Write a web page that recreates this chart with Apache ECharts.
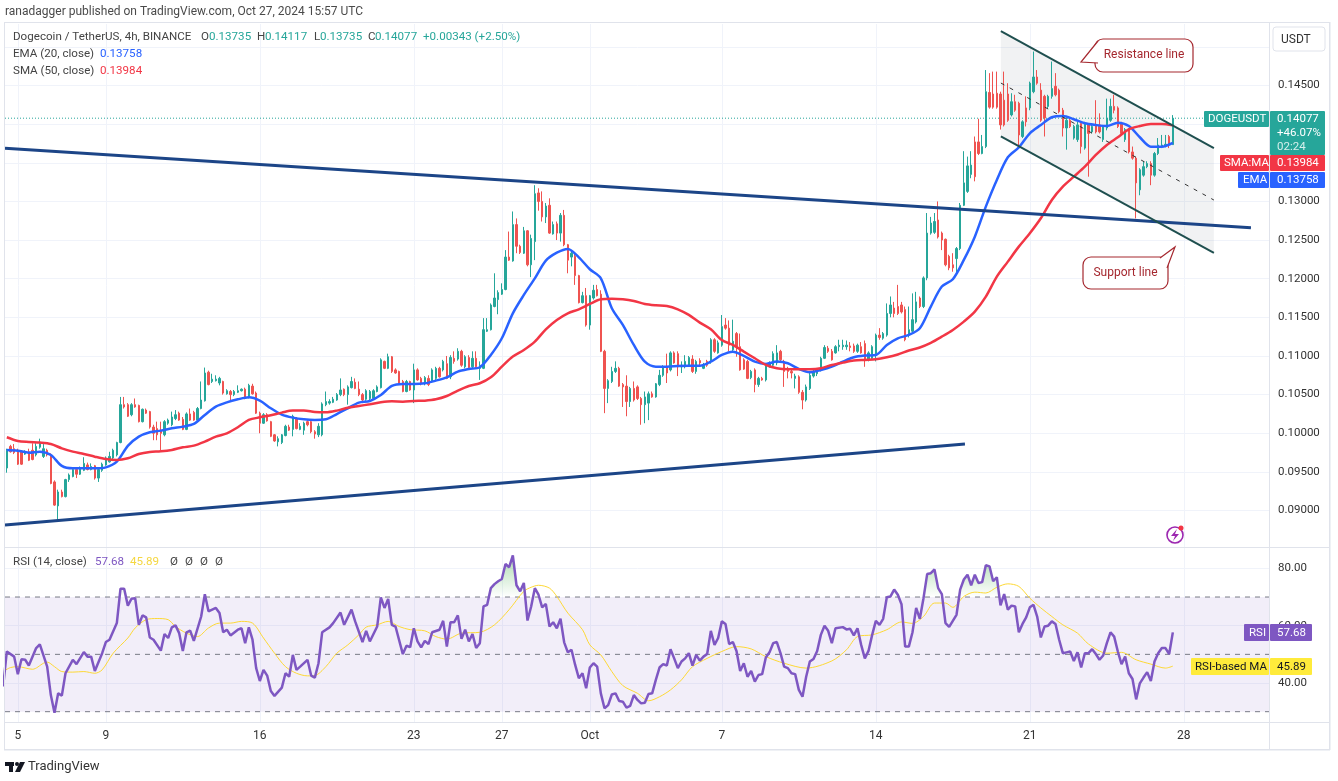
<!DOCTYPE html>
<html>
<head>
<meta charset="utf-8">
<title>DOGEUSDT</title>
<script src="https://cdn.jsdelivr.net/npm/echarts@6/dist/echarts.min.js"></script>
<style>
html, body { margin: 0; padding: 0; background: #fff; }
#main { width: 1338px; height: 781px; }
</style>
</head>
<body>
<div id="main"></div>
<script>
// day ticks on the candle index (4h candles, 0 = Sep 4 12:00)
var tickIdx = [3, 27, 69, 111, 135, 159, 195, 237, 279, 321];
var tickLabels = ['5', '9', '16', '23', '27', 'Oct', '7', '14', '21', '28'];
var priceTicks = [0.09, 0.095, 0.10, 0.105, 0.11, 0.115, 0.12, 0.125, 0.13, 0.135, 0.14, 0.145, 0.15];
var rsiTicks = [40, 60, 80];

// open, close, low, high
var candles = [
[.0955,.0978,.0949,.0980],[.0983,.0976,.0975,.0985],[.0980,.0975,.0973,.0986],[.0978,.0960,.0959,.0980],[.0976,.0960,.0959,.0978],
[.0973,.0976,.0972,.0978],[.0976,.0965,.0964,.0980],[.0978,.0966,.0965,.0987],[.0972,.0983,.0970,.0987],[.0982,.0987,.0980,.0993],
[.0970,.0980,.0968,.0986],[.0978,.0972,.0970,.0980],[.0972,.0935,.0934,.0974],[.0937,.0907,.0906,.0939],[.0906,.0924,.0888,.0927],
[.0924,.0918,.0917,.0927],[.0918,.0940,.0917,.0941],[.0940,.0946,.0937,.0948],[.0944,.0953,.0943,.0955],[.0953,.0947,.0942,.0955],
[.0947,.0955,.0946,.0957],[.0952,.0961,.0951,.0969],[.0959,.0953,.0952,.0962],[.0953,.0957,.0952,.0961],[.0958,.0942,.0940,.0959],
[.0942,.0953,.0937,.0955],[.0952,.0960,.0950,.0962],[.0959,.0968,.0958,.0970],[.0963,.0970,.0962,.0976],[.0968,.0978,.0966,.0980],
[.0972,.0988,.0970,.0989],[.0988,.1037,.0987,.1047],[.1037,.1034,.1032,.1047],[.1037,.1022,.1021,.1039],[.1024,.1037,.1022,.1039],
[.1037,.1034,.1033,.1045],[.1036,.1015,.1014,.1037],[.1015,.1031,.1014,.1032],[.1030,.1026,.1025,.1032],[.1028,.1008,.1006,.1029],
[.1008,.1000,.0991,.1011],[.1006,.0998,.0991,.1015],[.1004,.1000,.0978,.1015],[.0998,.1015,.0996,.1017],[.1013,.1017,.1011,.1019],
[.1011,.1021,.1009,.1028],[.1019,.1024,.1017,.1030],[.1026,.1017,.1016,.1028],[.1018,.1005,.1004,.1021],[.1005,.1025,.1004,.1027],
[.1025,.1017,.1016,.1032],[.1027,.1017,.1016,.1029],[.1017,.1032,.1015,.1034],[.1032,.1043,.1031,.1067],[.1042,.1078,.1041,.1085],
[.1079,.1063,.1062,.1081],[.1067,.1070,.1065,.1077],[.1068,.1070,.1067,.1075],[.1065,.1071,.1062,.1073],[.1067,.1052,.1050,.1068],
[.1051,.1055,.1050,.1057],[.1054,.1050,.1043,.1056],[.1050,.1054,.1048,.1056],[.1053,.1055,.1052,.1062],[.1055,.1057,.1054,.1058],
[.1057,.1045,.1044,.1059],[.1047,.1062,.1045,.1064],[.1061,.1051,.1050,.1064],[.1052,.1026,.1025,.1054],[.1026,.1013,.1000,.1028],
[.1013,.1024,.1012,.1026],[.1024,.1016,.1015,.1026],[.1015,.0996,.0995,.1016],[.0998,.0990,.0989,.0999],[.0989,.0993,.0983,.0996],
[.0988,.0998,.0986,.0999],[.0997,.1009,.0996,.1011],[.1008,.1004,.1003,.1011],[.1005,.1022,.0996,.1024],[.1019,.1006,.1005,.1021],
[.1005,.1009,.1004,.1013],[.1004,.1013,.0998,.1015],[.1015,.1011,.1009,.1017],[.1015,.1002,.1000,.1017],[.1002,.0999,.0993,.1004],
[.0998,.1009,.0995,.1013],[.0998,.1038,.0996,.1040],[.1037,.1041,.1035,.1054],[.1039,.1041,.1037,.1044],[.1040,.1044,.1039,.1047],
[.1043,.1050,.1042,.1052],[.1050,.1056,.1048,.1071],[.1057,.1050,.1048,.1058],[.1050,.1060,.1037,.1062],[.1059,.1067,.1058,.1073],
[.1066,.1058,.1057,.1071],[.1057,.1050,.1048,.1067],[.1050,.1043,.1039,.1052],[.1044,.1055,.1042,.1057],[.1045,.1054,.1043,.1056],
[.1045,.1055,.1044,.1057],[.1054,.1060,.1053,.1062],[.1059,.1095,.1058,.1097],[.1093,.1084,.1083,.1094],[.1084,.1099,.1083,.1103],
[.1099,.1080,.1078,.1100],[.1082,.1078,.1077,.1084],[.1080,.1065,.1063,.1081],[.1067,.1054,.1053,.1069],[.1054,.1067,.1053,.1069],
[.1067,.1056,.1055,.1068],[.1056,.1082,.1039,.1090],[.1082,.1069,.1068,.1084],[.1071,.1065,.1062,.1073],[.1065,.1072,.1062,.1074],
[.1071,.1063,.1061,.1075],[.1067,.1082,.1065,.1084],[.1071,.1084,.1069,.1086],[.1084,.1073,.1072,.1086],[.1082,.1093,.1080,.1095],
[.1090,.1071,.1070,.1100],[.1073,.1098,.1070,.1101],[.1097,.1093,.1090,.1106],[.1096,.1106,.1094,.1110],[.1106,.1088,.1086,.1108],
[.1086,.1099,.1084,.1101],[.1098,.1085,.1084,.1101],[.1086,.1097,.1084,.1106],[.1097,.1086,.1084,.1106],[.1084,.1088,.1069,.1093],
[.1084,.1134,.1083,.1149],[.1132,.1134,.1131,.1149],[.1134,.1166,.1133,.1168],[.1164,.1175,.1163,.1207],[.1173,.1182,.1154,.1185],
[.1180,.1186,.1179,.1194],[.1186,.1228,.1185,.1237],[.1228,.1224,.1223,.1261],[.1223,.1270,.1222,.1287],[.1270,.1242,.1233,.1278],
[.1242,.1234,.1232,.1244],[.1233,.1262,.1232,.1267],[.1262,.1218,.1216,.1263],[.1218,.1252,.1202,.1257],[.1248,.1310,.1224,.1321],
[.1311,.1300,.1288,.1317],[.1300,.1280,.1274,.1313],[.1280,.1294,.1272,.1298],[.1295,.1259,.1258,.1304],[.1258,.1270,.1257,.1274],
[.1271,.1259,.1250,.1274],[.1259,.1282,.1248,.1285],[.1282,.1244,.1242,.1289],[.1244,.1224,.1207,.1245],[.1228,.1233,.1216,.1237],
[.1229,.1204,.1192,.1233],[.1204,.1169,.1168,.1205],[.1169,.1178,.1168,.1183],[.1178,.1140,.1138,.1188],[.1140,.1178,.1134,.1179],
[.1175,.1185,.1173,.1192],[.1186,.1178,.1177,.1192],[.1180,.1106,.1105,.1185],[.1106,.1058,.1026,.1108],[.1058,.1068,.1039,.1070],
[.1067,.1080,.1065,.1086],[.1080,.1084,.1078,.1093],[.1084,.1061,.1060,.1086],[.1063,.1060,.1034,.1065],[.1061,.1041,.1022,.1075],
[.1041,.1058,.1034,.1060],[.1058,.1043,.1041,.1067],[.1060,.1045,.1043,.1062],[.1045,.1037,.1011,.1047],[.1037,.1047,.1013,.1054],
[.1039,.1051,.1017,.1054],[.1051,.1047,.1046,.1054],[.1047,.1064,.1046,.1065],[.1063,.1075,.1061,.1082],[.1075,.1086,.1073,.1088],
[.1086,.1078,.1065,.1103],[.1082,.1104,.1080,.1106],[.1104,.1091,.1090,.1106],[.1103,.1086,.1074,.1106],[.1086,.1088,.1078,.1093],
[.1086,.1093,.1084,.1101],[.1088,.1098,.1086,.1100],[.1096,.1080,.1078,.1101],[.1080,.1093,.1077,.1095],[.1094,.1091,.1088,.1097],
[.1084,.1088,.1083,.1091],[.1093,.1088,.1086,.1095],[.1093,.1121,.1090,.1123],[.1121,.1106,.1104,.1123],[.1104,.1117,.1103,.1120],
[.1114,.1138,.1112,.1153],[.1140,.1136,.1134,.1149],[.1136,.1114,.1106,.1146],[.1108,.1119,.1106,.1147],[.1129,.1112,.1099,.1131],
[.1112,.1082,.1081,.1129],[.1095,.1083,.1082,.1097],[.1093,.1071,.1070,.1095],[.1072,.1080,.1070,.1082],[.1082,.1063,.1053,.1084],
[.1063,.1071,.1060,.1073],[.1071,.1069,.1068,.1073],[.1069,.1088,.1067,.1091],[.1086,.1091,.1085,.1093],[.1088,.1103,.1086,.1106],
[.1091,.1104,.1088,.1114],[.1106,.1095,.1093,.1108],[.1093,.1080,.1060,.1095],[.1084,.1080,.1071,.1086],[.1080,.1078,.1071,.1082],
[.1071,.1074,.1058,.1077],[.1073,.1053,.1051,.1075],[.1053,.1043,.1031,.1056],[.1043,.1060,.1041,.1063],[.1058,.1075,.1056,.1080],
[.1074,.1080,.1072,.1082],[.1077,.1082,.1074,.1084],[.1082,.1097,.1080,.1099],[.1097,.1111,.1096,.1114],[.1110,.1106,.1104,.1113],
[.1106,.1095,.1094,.1109],[.1104,.1112,.1103,.1114],[.1112,.1114,.1106,.1121],[.1112,.1114,.1108,.1121],[.1112,.1114,.1108,.1120],
[.1113,.1111,.1106,.1118],[.1113,.1106,.1104,.1116],[.1106,.1114,.1104,.1116],[.1112,.1104,.1103,.1118],[.1116,.1095,.1086,.1120],
[.1095,.1104,.1093,.1106],[.1097,.1112,.1095,.1114],[.1101,.1127,.1093,.1129],[.1127,.1124,.1121,.1136],[.1123,.1129,.1121,.1131],
[.1127,.1155,.1125,.1168],[.1155,.1166,.1150,.1177],[.1162,.1155,.1150,.1170],[.1164,.1155,.1153,.1192],[.1166,.1157,.1155,.1170],
[.1160,.1121,.1119,.1164],[.1127,.1134,.1124,.1164],[.1132,.1147,.1130,.1181],[.1144,.1170,.1142,.1183],[.1175,.1164,.1162,.1177],
[.1164,.1201,.1162,.1203],[.1201,.1259,.1198,.1285],[.1259,.1272,.1257,.1280],[.1260,.1274,.1258,.1285],[.1276,.1254,.1252,.1300],
[.1259,.1250,.1237,.1261],[.1251,.1218,.1216,.1252],[.1229,.1214,.1211,.1231],[.1218,.1214,.1209,.1233],[.1226,.1239,.1207,.1241],
[.1239,.1295,.1237,.1298],[.1295,.1324,.1294,.1365],[.1313,.1346,.1311,.1358],[.1335,.1347,.1330,.1365],[.1377,.1332,.1326,.1384],
[.1377,.1362,.1360,.1407],[.1362,.1371,.1361,.1386],[.1371,.1442,.1369,.1470],[.1441,.1422,.1420,.1466],[.1439,.1422,.1420,.1468],
[.1440,.1422,.1420,.1468],[.1439,.1399,.1393,.1442],[.1431,.1399,.1397,.1468],[.1439,.1405,.1403,.1453],[.1412,.1429,.1410,.1440],
[.1429,.1418,.1416,.1438],[.1427,.1386,.1371,.1429],[.1384,.1403,.1382,.1405],[.1421,.1403,.1397,.1436],[.1421,.1453,.1418,.1455],
[.1442,.1461,.1440,.1494],[.1461,.1453,.1451,.1470],[.1444,.1405,.1403,.1453],[.1436,.1408,.1384,.1438],[.1423,.1436,.1420,.1438],
[.1436,.1446,.1433,.1481],[.1449,.1438,.1436,.1466],[.1444,.1416,.1414,.1446],[.1418,.1395,.1384,.1421],[.1395,.1405,.1367,.1408],
[.1405,.1397,.1395,.1408],[.1382,.1397,.1380,.1399],[.1380,.1399,.1377,.1403],[.1401,.1371,.1362,.1403],[.1369,.1401,.1367,.1403],
[.1399,.1388,.1332,.1401],[.1390,.1397,.1388,.1401],[.1399,.1390,.1388,.1431],[.1399,.1390,.1388,.1414],[.1380,.1397,.1377,.1399],
[.1395,.1408,.1392,.1433],[.1405,.1423,.1403,.1433],[.1423,.1418,.1414,.1438],[.1421,.1397,.1395,.1423],[.1401,.1388,.1386,.1403],
[.1380,.1393,.1377,.1395],[.1393,.1364,.1362,.1395],[.1364,.1356,.1354,.1371],[.1356,.1324,.1278,.1358],[.1315,.1341,.1308,.1343],
[.1334,.1345,.1332,.1352],[.1345,.1349,.1343,.1352],[.1349,.1334,.1321,.1352],[.1334,.1362,.1332,.1364],[.1362,.1373,.1360,.1382],
[.1371,.1373,.1369,.1386],[.1372,.1374,.1370,.1386],[.1384,.1373,.1369,.1386],[.13735,.14077,.13735,.14117]
];

// moving averages, read every 3rd candle from index 0
var ema20 = [
.09784,.09775,.09749,.09762,.09719,.09577,.09546,.09546,.09546,.09559,.09633,.09836,.09956,.10012,.10034,.10064,.10086,.10120,.10237,.10344,.10400,
.10439,.10465,.10422,.10323,.10241,.10202,.10180,.10172,.10180,.10249,.10323,.10396,.10418,.10495,.10612,.10638,.10638,.10646,.10681,.10724,
.10798,.10832,.10854,.11013,.11229,.11552,.11790,.12005,.12234,.12337,.12385,.12277,.12122,.12005,.11617,.11402,.11143,.10927,.10862,.10862,
.10871,.10875,.10875,.10927,.11013,.11056,.11000,.10927,.10897,.10927,.10906,.10832,.10789,.10819,.10862,.10927,.10983,.11005,.11013,.11143,
.11229,.11272,.11358,.11639,.11898,.11993,.12243,.12544,.12933,.13278,.13571,.13700,.13882,.13989,.14089,.14106,.14063,.14011,.13989,.13976,
.14019,.13976,.13830,.13709,.13709,.13758
];
var sma50 = [
.09948,.09900,.09887,.09879,.09861,.09805,.09762,.09732,.09697,.09667,.09654,.09676,.09732,.09758,.09766,.09784,.09818,.09840,.09892,.09956,.09999,
.10077,.10172,.10206,.10232,.10267,.10293,.10293,.10275,.10271,.10293,.10331,.10353,.10375,.10400,.10413,.10409,.10418,.10422,.10439,.10482,
.10552,.10612,.10647,.10724,.10862,.10992,.11078,.11186,.11345,.11466,.11552,.11604,.11673,.11734,.11742,.11734,.11712,.11673,.11656,.11647,
.11604,.11531,.11432,.11345,.11207,.11143,.11056,.10970,.10884,.10841,.10828,.10828,.10828,.10841,.10884,.10914,.10940,.10949,.10957,.10983,
.11020,.11070,.11110,.11170,.11250,.11337,.11445,.11574,.11768,.12027,.12221,.12415,.12588,.12782,.13019,.13191,.13320,.13450,.13601,.13730,
.13830,.13933,.13976,.14002,.14002,.13984
];

// rsi as [candle index, value]
var rsi14 = [
[-1,38.8],[0,51.0],[2,49.2],[3,43.1],[4,48.3],[5,48.1],[6,46.1],[8,52.2],[9,53.5],[11,45.7],[12,35.8],[13,29.6],[14,36.4],[15,35.6],[16,43.4],
[18,48.1],[19,46.6],[21,50.8],[22,49.2],[23,49.2],[24,44.2],[26,50.4],[27,54.3],[28,55.1],[30,60.9],[31,72.9],[32,72.9],[33,67],[34,69.4],[35,69.6],
[36,60.3],[37,63.6],[38,62.9],[39,55.9],[40,55.1],[42,51.3],[43,57.1],[44,55.7],[45,59.4],[46,60.1],[47,57.4],[48,51.2],[49,57.7],[50,58.3],[51,54.7],
[53,63.2],[54,71],[55,65],[57,66.2],[58,64.4],[59,57.7],[60,58.6],[61,56.6],[63,58.6],[64,59.1],[65,53.9],[66,59.4],[67,55.1],[68,45.2],[69,40.7],
[70,44.6],[71,42.6],[72,37.2],[73,35.5],[75,38.4],[76,43.4],[77,42.2],[78,49.8],[79,44.6],[80,45.7],[82,48.1],[83,42.6],[84,41.9],[85,46.9],[86,57.7],
[88,59.4],[89,60.9],[91,64.6],[92,60.3],[94,65.6],[95,61.5],[97,54.3],[98,58.2],[99,54.5],[101,59.7],[102,69.9],[103,66.2],[104,69.3],[105,60.3],[106,59.7],
[108,50.1],[109,53],[110,52.5],[111,59.1],[112,54.5],[113,52.4],[114,54.7],[115,53.6],[116,57.7],[118,58.6],[119,61.7],[120,52.7],[121,61.2],[122,61.2],[123,63.6],
[124,55.4],[125,58.6],[126,54.5],[127,57.1],[128,52.2],[129,53.9],[130,66.7],[131,67.3],[132,73.1],[133,74.5],[134,75.5],[135,76.3],[136,81.5],[137,80.4],[138,84.5],
[139,74.1],[140,72],[141,74.9],[142,61.8],[143,66.7],[144,73.1],[145,70.8],[146,66.4],[147,67.6],[148,59.7],[149,61.2],[150,59.1],[151,62.4],[152,54.2],[153,50.7],
[154,51.6],[155,46.3],[156,41.7],[157,43.4],[158,38.2],[159,45.4],[160,46.9],[161,45.7],[162,36.4],[163,31.2],[164,32.3],[165,36],[166,36.4],[167,33.7],[168,33.5],
[169,31.4],[170,32],[171,35.8],[172,34.1],[173,32.9],[174,33.1],[175,36.2],[176,36.4],[177,41.1],[178,45.4],[179,46.6],[180,46.1],[181,51.8],[182,48.6],[183,45.2],
[184,47.5],[185,48.6],[186,50.4],[187,46.1],[188,49.8],[189,47.8],[190,49.2],[191,50.1],[192,58.2],[193,53.3],[194,55.7],[195,61.5],[196,60.6],[197,53.6],[198,54.3],
[199,51.2],[200,44.2],[201,46.9],[202,42.2],[203,44.2],[204,40.5],[205,42.8],[206,43.1],[207,48.9],[208,50.7],[209,53.9],[210,54.3],[211,50.4],[212,45.7],[213,45.2],
[214,43.4],[215,43.1],[216,37.6],[217,35.2],[218,42.2],[219,47.5],[220,48.4],[221,51.2],[222,56.8],[223,60],[224,58.2],[225,53.9],[226,59.1],[228,59.5],[229,58.7],
[230,58.9],[231,56.6],[232,59.1],[233,53.3],[234,48.6],[235,51.2],[236,56.8],[237,61.7],[238,60.3],[239,62.4],[240,69.9],[241,70.2],[242,72.6],[243,70.8],[244,67.5],
[245,52.7],[246,52.7],[247,57.7],[248,66.2],[249,62.4],[250,69.6],[251,78],[252,78.3],[253,79.6],[254,73.1],[255,71],[256,60.9],[257,59.6],[258,61.7],[259,63.8],
[260,72.6],[261,76.1],[262,77.8],[263,74.1],[264,77.8],[265,74.9],[266,75.2],[267,81.1],[268,80.7],[269,75.5],[270,76.9],[271,67.1],[272,71],[273,65.6],[274,67],
[275,66.7],[276,57.7],[277,60.6],[278,62.9],[279,66.4],[280,67.3],[281,63.2],[282,55.9],[283,59.7],[284,60],[285,61.5],[286,60.6],[287,55.1],[288,50.4],[289,50.7],
[290,51],[291,47.7],[292,50.7],[293,45.4],[294,50.4],[295,50.4],[296,51.8],[297,50.1],[298,48.1],[299,49.6],[300,53.9],[301,57.7],[302,56.2],[303,51],[304,46.6],
[305,49.2],[306,43.4],[307,41.4],[308,34.3],[309,39.9],[310,41.9],[311,43.8],[312,40.7],[313,47.5],[314,50.4],[315,52.2],[316,52.2],[317,50.1],[318,57.68]
];
var rsiMa = [
[-1,44],[1,45.4],[3,45.7],[7,44.8],[10,46.9],[11,47.3],[13,45.7],[15,44],[18,43.8],[21,44],[24,43.4],[26,44.6],[29,50.4],[33,55.7],[35,59.2],[38,62.1],[41,62.5],
[44,62.1],[46,59.7],[49,57.4],[52,56.2],[55,59.2],[58,60.9],[61,60.9],[64,61.5],[67,60.9],[70,55.7],[73,50.4],[76,45.7],[79,43.4],[82,42.5],[84,42.6],[87,45.7],
[90,50.4],[93,53.3],[96,56.8],[98,59.5],[101,60.3],[104,61.5],[107,59.7],[110,58.6],[114,58.2],[117,56.2],[120,55.3],[124,57.4],[129,57.7],[133,60.3],[137,65.6],
[141,72],[143,73.4],[145,74.1],[148,73.1],[150,70.2],[153,64.4],[157,58.6],[159,53.3],[162,49.8],[165,44],[168,39.1],[172,36.4],[175,33.8],[178,35.2],[181,37.6],
[184,41.1],[187,45.7],[191,48.6],[195,51],[199,52.7],[203,51.9],[207,49.2],[212,46.9],[218,45.2],[225,47.7],[229,51.6],[232,56.2],[236,56.8],[240,58.6],[244,61.3],
[247,60.8],[250,63.2],[253,67.9],[256,67.9],[258,66.4],[261,70.2],[264,71.7],[267,71.4],[270,73.4],[273,74.6],[276,73.7],[279,69.6],[282,66.2],[285,63.2],[288,60.3],
[292,57.4],[295,53.6],[300,50.4],[304,50.7],[308,48.1],[312,46.6],[316,45.2],[318,45.89]
];

// drawn lines as [candle index, price]
var upperTrend = [[-0.5, .13687], [339.3, .12660]];
var lowerTrend = [[-0.5, .08813], [261.3, .09861]];
var channelTop = [[271.1, .15205], [329.2, .13691]];
var channelMid = [[271.1, .14532], [329.2, .13018]];
var channelLow = [[271.1, .13843], [329.2, .12333]];
var lastPrice = [[-0.5, .14077], [326.7, .14077]];

var categories = [];
for (var c = 0; c < 345; c++) {
	categories.push(new Date(Date.UTC(2024, 8, 4, 12) + c * 4 * 3600 * 1000).toISOString());
}

function idxPairs(values) {
	return values.map(function (v, k) { return [k * 3, v]; });
}
function flatLine(v) {
	return [[-0.5, v], [344.5, v]];
}

var FONT = 'Roboto, sans-serif';
var GRID_COLOR = '#f0f3fa';
var BORDER = '#e0e3eb';
var TEAL = '#26a69a', RED = '#ef5350', PURPLE = '#7e57c2', BLUE = '#2962ff', MA_RED = '#f23645';
var NOTE_RED = '#a5282f';

function txt(x, y, s, fill, size, align) {
	return {
		type: 'text', x: x, y: y + 1, z: 100,
		style: {
			text: s, fill: fill, textAlign: align || 'left', textVerticalAlign: 'middle',
			font: (size || 12) + 'px ' + FONT
		}
	};
}
function box(x, y, w, h, fill, r) {
	return { type: 'rect', z: 99, shape: { x: x, y: y, width: w, height: h, r: r || 0 }, style: { fill: fill } };
}
function pen(x, y, w, h) {
	return { type: 'rect', z: 98, shape: { x: x, y: y, width: w, height: h }, style: { fill: BORDER } };
}
// note box with a tail: rect first, the tail covers its border, then the two tail edges
function callout(x, y, w, h, tail) {
	return [
		{ type: 'rect', z: 99, shape: { x: x, y: y, width: w, height: h, r: 8 }, style: { fill: '#fff', stroke: NOTE_RED, lineWidth: 1.2 } },
		{ type: 'polygon', z: 99, shape: { points: tail }, style: { fill: '#fff' } },
		{ type: 'polyline', z: 99, shape: { points: tail }, style: { fill: 'none', stroke: NOTE_RED, lineWidth: 1.2 } }
	];
}

var LEGEND = 11.6, AXIS = 11.5, GREY = '#444';
var graphics = [
	pen(4, 22, 1326, 1), pen(4, 22, 1, 728), pen(4, 749, 1326, 1.5), pen(1329, 22, 1.5, 728),
	pen(5, 547, 1325, 1), pen(5, 722, 1325, 1), pen(1269, 22, 1, 728),

	txt(5, 11, 'ranadagger published on TradingView.com, Oct 27, 2024 15:57 UTC', '#4a4a4a', 12),
	txt(13, 36, 'Dogecoin / TetherUS, 4h, BINANCE', GREY, LEGEND),
	txt(201, 36, 'O', GREY, LEGEND), txt(209, 36, '0.13735', TEAL, LEGEND),
	txt(257, 36, 'H', GREY, LEGEND), txt(265, 36, '0.14117', TEAL, LEGEND),
	txt(314, 36, 'L', GREY, LEGEND), txt(320, 36, '0.13735', TEAL, LEGEND),
	txt(368, 36, 'C', GREY, LEGEND), txt(375, 36, '0.14077', TEAL, LEGEND),
	txt(423, 36, '+0.00343 (+2.50%)', TEAL, LEGEND),
	txt(13, 53, 'EMA (20, close)', GREY, LEGEND), txt(100, 53, '0.13758', BLUE, LEGEND),
	txt(13, 70, 'SMA (50, close)', GREY, LEGEND), txt(100, 70, '0.13984', MA_RED, LEGEND),
	txt(13, 561, 'RSI (14, close)', GREY, LEGEND), txt(95, 561, '57.68', PURPLE, LEGEND), txt(130, 561, '45.89', '#f5d742', LEGEND),
	txt(170, 561, 'Ø', GREY, LEGEND), txt(185, 561, 'Ø', GREY, LEGEND), txt(200, 561, 'Ø', GREY, LEGEND), txt(215, 561, 'Ø', GREY, LEGEND),

	{ type: 'rect', z: 99, shape: { x: 1273, y: 27, width: 52, height: 24, r: 3 }, style: { fill: '#fff', stroke: BORDER } },
	txt(1281, 39, 'USDT', '#333', 12),

	box(1204, 111, 65, 16, TEAL, 1), txt(1208, 118.5, 'DOGEUSDT', '#fff', AXIS),
	box(1270, 111, 55, 44, TEAL, 1), txt(1277, 118.5, '0.14077', '#fff', AXIS),
	txt(1277, 132.5, '+46.07%', '#fff', AXIS), txt(1277, 146, '02:24', '#d5efec', AXIS),
	box(1220, 155, 49, 16, MA_RED, 1), txt(1224, 162.5, 'SMA:MA', '#fff', AXIS),
	box(1270, 155, 55, 16, MA_RED, 1), txt(1277, 162.5, '0.13984', '#fff', AXIS),
	box(1238, 172, 31, 16, BLUE, 1), txt(1243, 179.5, 'EMA', '#fff', AXIS),
	box(1270, 172, 55, 16, BLUE, 1), txt(1277, 179.5, '0.13758', '#fff', AXIS),
	box(1244, 624, 25, 17, PURPLE, 1), txt(1249, 632, 'RSI', '#fff', AXIS),
	box(1270, 624, 42, 17, PURPLE, 1), txt(1277, 632, '57.68', '#fff', AXIS),
	box(1191, 658, 78, 17, '#ffeb3b', 1), txt(1195, 666, 'RSI-based MA', '#131722', AXIS),
	box(1270, 658, 42, 17, '#ffeb3b', 1), txt(1277, 666, '45.89', '#131722', AXIS),

	txt(1144, 54, 'Resistance line', NOTE_RED, 12, 'center'),
	txt(1125.5, 272, 'Support line', NOTE_RED, 12, 'center'),

	{ type: 'circle', z: 99, shape: { cx: 1175, cy: 535, r: 8 }, style: { fill: '#fff', stroke: '#9c27b0', lineWidth: 1.6 } },
	{ type: 'polygon', z: 100, shape: { points: [[1177, 529], [1171, 536], [1175, 536], [1173, 541], [1179, 534], [1175, 534]] }, style: { fill: '#9c27b0' } },
	{ type: 'circle', z: 101, shape: { cx: 1181, cy: 528, r: 2.5 }, style: { fill: '#f23645' } },

	box(5, 762, 9, 4, '#131722'), box(9, 762, 4, 10, '#131722'),
	{ type: 'circle', z: 99, shape: { cx: 17, cy: 764, r: 2 }, style: { fill: '#131722' } },
	{ type: 'polygon', z: 99, shape: { points: [[20, 762], [25, 762], [20, 772], [15, 772]] }, style: { fill: '#131722' } },
	txt(28, 766, 'TradingView', '#333', 13)
].concat(
	callout(1095, 39, 98, 33, [[1098, 41], [1081, 62], [1098, 63]]),
	callout(1083, 257, 85, 32, [[1160, 258], [1175, 247], [1167, 268]])
);

function polygonSeries(points, fill, xIndex, yIndex, z) {
	return {
		type: 'custom', xAxisIndex: xIndex, yAxisIndex: yIndex, silent: true, z: z, data: [[0, 0]],
		renderItem: function (params, api) {
			return {
				type: 'polygon', silent: true,
				shape: { points: points.map(function (p) { return api.coord(p); }) },
				style: { fill: fill }
			};
		}
	};
}
function lineSeries(data, color, width, xIndex, yIndex, z, extra) {
	var s = {
		type: 'line', data: data, xAxisIndex: xIndex, yAxisIndex: yIndex, z: z, silent: true,
		symbol: 'none', lineStyle: { color: color, width: width }
	};
	for (var k in extra) { s[k] = extra[k]; }
	return s;
}
function dashed(data, color, width, dash, xIndex, yIndex, z) {
	return {
		type: 'line', data: data, xAxisIndex: xIndex, yAxisIndex: yIndex, z: z, silent: true,
		symbol: 'none', lineStyle: { color: color, width: width, type: dash }
	};
}

var option = {
	animation: false,
	backgroundColor: '#fff',
	textStyle: { fontFamily: FONT },
	grid: [
		{ left: 5, top: 24, width: 1265, height: 523 },
		{ left: 5, top: 548, width: 1265, height: 174 }
	],
	xAxis: [
		{ type: 'category', gridIndex: 0, data: categories, show: false, boundaryGap: true },
		{
			type: 'value', gridIndex: 0, min: -0.5, max: 344.5,
			axisLine: { show: false }, axisLabel: { show: false },
			axisTick: { show: false, customValues: tickIdx },
			splitLine: { show: true, lineStyle: { color: GRID_COLOR } }
		},
		{
			type: 'value', gridIndex: 1, min: -0.5, max: 344.5,
			axisLine: { show: false },
			axisTick: { show: false, customValues: tickIdx },
			axisLabel: {
				customValues: tickIdx, color: '#333', fontSize: 12, margin: 8, hideOverlap: false,
				formatter: function (v) { return tickLabels[tickIdx.indexOf(v)]; }
			},
			splitLine: { show: true, lineStyle: { color: GRID_COLOR } }
		}
	],
	yAxis: [
		{
			type: 'value', gridIndex: 0, position: 'right', min: 0.08528, max: 0.15296,
			axisLine: { show: false },
			axisTick: { show: false, customValues: priceTicks },
			axisLabel: {
				customValues: priceTicks, color: '#333', fontSize: 11.5, margin: 8,
				formatter: function (v) { return v.toFixed(5); }
			},
			splitLine: { show: true, lineStyle: { color: GRID_COLOR } }
		},
		{
			type: 'value', gridIndex: 1, position: 'right', min: 26.4, max: 87.1,
			axisLine: { show: false },
			axisTick: { show: false, customValues: rsiTicks },
			axisLabel: {
				customValues: rsiTicks, color: '#333', fontSize: 11.5, margin: 8,
				formatter: function (v) { return v.toFixed(2); }
			},
			splitLine: { show: true, lineStyle: { color: GRID_COLOR } }
		}
	],
	series: [
		polygonSeries([channelTop[0], channelTop[1], channelLow[1], channelLow[0]], 'rgba(120,123,134,0.1)', 1, 0, 1),
		{
			type: 'candlestick', data: candles, xAxisIndex: 0, yAxisIndex: 0, z: 3, barWidth: 2, silent: true,
			itemStyle: { color: TEAL, color0: RED, borderColor: TEAL, borderColor0: RED, borderWidth: 1 }
		},
		lineSeries(idxPairs(ema20), BLUE, 2.5, 1, 0, 4, { smooth: 0.3 }),
		lineSeries(idxPairs(sma50), MA_RED, 2.5, 1, 0, 5, { smooth: 0.3 }),
		lineSeries(upperTrend, '#1c4587', 3, 1, 0, 6),
		lineSeries(lowerTrend, '#1c4587', 3, 1, 0, 6),
		lineSeries(channelTop, '#1f4f4f', 2, 1, 0, 6),
		lineSeries(channelLow, '#1f4f4f', 2, 1, 0, 6),
		dashed(channelMid, '#333', 1, [4, 6], 1, 0, 6),
		dashed(lastPrice, TEAL, 1, [1, 2], 1, 0, 2),

		polygonSeries([[-0.5, 70], [344.5, 70], [344.5, 30], [-0.5, 30]], 'rgba(126,87,194,0.1)', 2, 1, 1),
		dashed(flatLine(70), '#787b86', 1, [5, 5], 2, 1, 2),
		dashed(flatLine(50), '#787b86', 1, [5, 5], 2, 1, 2),
		dashed(flatLine(30), '#787b86', 1, [5, 5], 2, 1, 2),
		lineSeries(rsi14.map(function (p) { return [p[0], Math.max(p[1], 70)]; }), 'rgba(0,0,0,0)', 0, 2, 1, 3, {
			areaStyle: {
				origin: 70, opacity: 1,
				color: {
					type: 'linear', x: 0, y: 0, x2: 0, y2: 1,
					colorStops: [{ offset: 0, color: 'rgba(76,175,80,0.45)' }, { offset: 1, color: 'rgba(76,175,80,0)' }]
				}
			}
		}),
		lineSeries(rsiMa, '#fdd835', 1, 2, 1, 4, { smooth: 0.3 }),
		lineSeries(rsi14, PURPLE, 2.5, 2, 1, 5)
	],
	graphic: { elements: graphics }
};

var myChart = echarts.init(document.getElementById('main'));
myChart.setOption(option);
</script>
</body>
</html>
